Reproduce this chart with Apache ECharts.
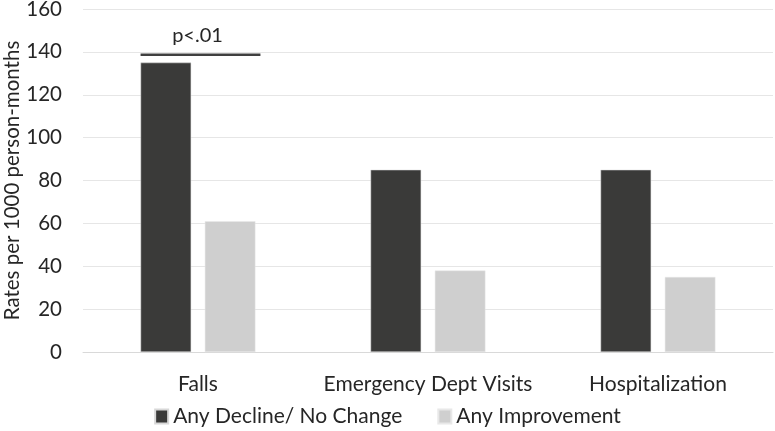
<!DOCTYPE html>
<html>
<head>
<meta charset="utf-8">
<script src="https://cdn.jsdelivr.net/npm/echarts@6/dist/echarts.min.js"></script>
<style>html,body{margin:0;padding:0;background:#fff;}#c{width:775px;height:431px;}</style>
</head>
<body>
<div id="c"></div>
<script>
var categories = ['Falls', 'Emergency Dept Visits', 'Hospitalization'];
var declineValues = [135, 85, 85];
var improvementValues = [61, 38, 35];
var seriesNames = ['Any Decline/ No Change', 'Any Improvement'];
var yTicks = { min: 0, max: 160, interval: 20 };
var yTitle = 'Rates per 1000 person-months';
var sigLabel = 'p<.01';
var sigLevel = 138.7;
var sigCategory = 'Falls';

var font = 'Lato, "Open Sans", sans-serif';
var chart = echarts.init(document.getElementById('c'));
chart.setOption({
  animation: false,
  textStyle: { fontFamily: font },
  grid: { left: 83, right: 2, top: 9, bottom: 79, outerBoundsMode: 'none', containLabel: false },
  legend: {
    top: 401, left: 'center',
    itemWidth: 13, itemHeight: 14, itemGap: 35,
    icon: 'rect',
    textStyle: { fontSize: 21, color: '#262626', fontFamily: font },
    data: seriesNames
  },
  xAxis: {
    type: 'category', data: categories,
    axisTick: { show: false },
    axisLine: { lineStyle: { color: '#d9d9d9' } },
    axisLabel: { interval: 0, fontSize: 21, color: '#262626', margin: 22, fontFamily: font }
  },
  yAxis: {
    type: 'value', min: yTicks.min, max: yTicks.max, interval: yTicks.interval,
    axisLabel: { fontSize: 20.5, color: '#262626', margin: 21, fontFamily: font },
    splitLine: { lineStyle: { color: '#e6e6e6' } },
    axisLine: { show: false }, axisTick: { show: false }
  },
  series: [
    { name: seriesNames[0], type: 'bar', data: declineValues, barWidth: '22%', barGap: '27%',
      itemStyle: { color: '#3a3a39', borderColor: '#d8d8d8', borderWidth: 0.5 } },
    { name: seriesNames[1], type: 'bar', data: improvementValues, barWidth: '22%', barGap: '27%',
      itemStyle: { color: '#cfcfcf', borderColor: '#e8e8e8', borderWidth: 0.5 } }
  ]
});

function drawExtras() {
  var center = chart.convertToPixel({ gridIndex: 0 }, [sigCategory, sigLevel]);
  var yMid = chart.convertToPixel({ yAxisIndex: 0 }, (yTicks.min + yTicks.max) / 2);
  var catW = (775 - 83 - 2) / categories.length;
  var bw = catW * 0.22, gap = bw * 0.27;
  var x1 = center[0] - gap / 2 - bw;
  var x2 = center[0] + gap / 2 + bw + 5;
  chart.setOption({
    graphic: [
      { type: 'line', shape: { x1: x1, y1: center[1], x2: x2, y2: center[1] },
        style: { stroke: '#404040', lineWidth: 2.5 } },
      { type: 'text', x: (x1 + x2) / 2 - 3, y: center[1] - 9,
        style: { text: sigLabel, fill: '#262626', font: '20px ' + font, textAlign: 'center', textVerticalAlign: 'bottom' } },
      { type: 'text', x: 12, y: yMid, rotation: Math.PI / 2,
        style: { text: yTitle, fill: '#262626', font: '20.5px ' + font, textAlign: 'center', textVerticalAlign: 'middle' } }
    ]
  });
}
drawExtras();
</script>
</body>
</html>
